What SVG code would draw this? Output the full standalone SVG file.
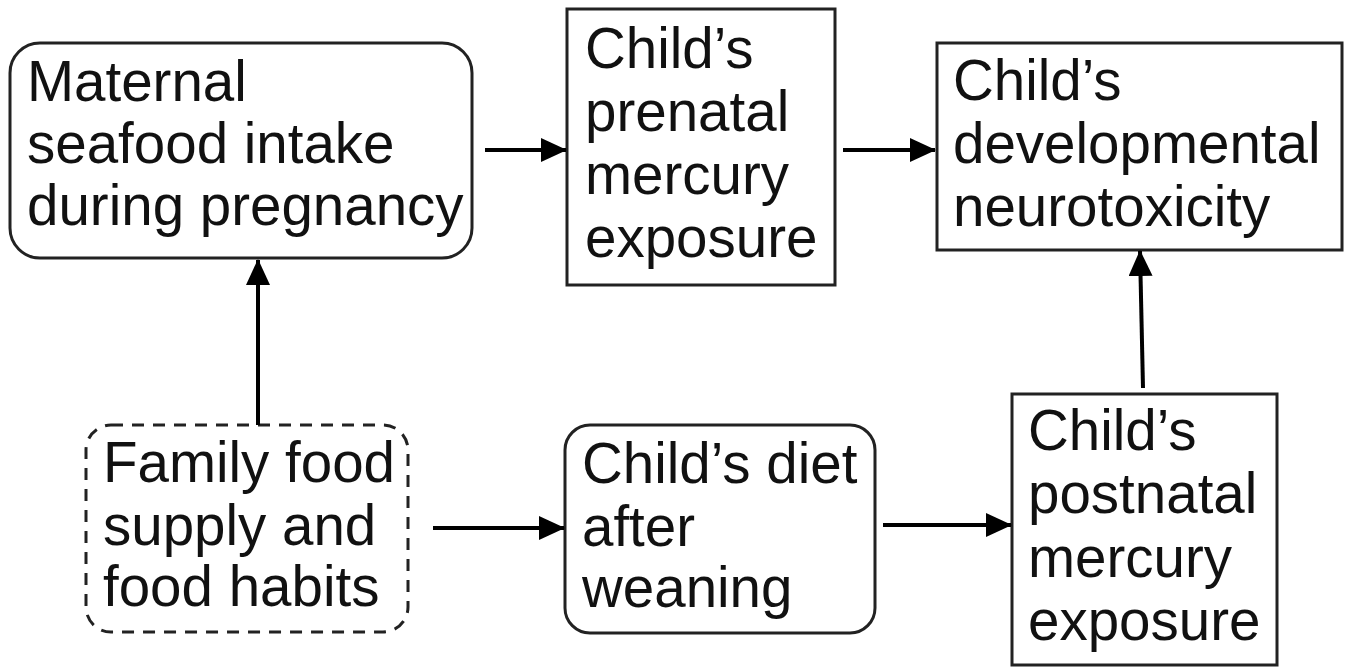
<svg xmlns="http://www.w3.org/2000/svg" width="1350" height="667" viewBox="0 0 1350 667">
<defs>
<style>
.box{fill:#fff;stroke:#222;stroke-width:3}
.dash{fill:#fff;stroke:#222;stroke-width:3;stroke-dasharray:12 9}
.t{font-family:"Liberation Sans",Arial,sans-serif;font-size:56.5px;fill:#111}
.c{stroke:#000;stroke-width:4;fill:none}
</style>
<marker id="a" markerWidth="26" markerHeight="24" refX="25" refY="12" orient="auto" markerUnits="userSpaceOnUse">
<path d="M0,0 L26,12 L0,24 z" fill="#000"/>
</marker>
</defs>
<rect width="1350" height="667" fill="#fff"/>
<g id="maternal">
<rect class="box" x="10" y="43" width="462" height="215" rx="30"/>
<text class="t" x="27" y="101">Maternal</text>
<text class="t" x="27" y="163">seafood intake</text>
<text class="t" x="27" y="225">during pregnancy</text>
</g>
<g id="prenatal">
<rect class="box" x="567" y="9" width="268" height="276"/>
<text class="t" x="585" y="68">Child’s</text>
<text class="t" x="585" y="131">prenatal</text>
<text class="t" x="585" y="194">mercury</text>
<text class="t" x="585" y="257">exposure</text>
</g>
<g id="neurotox">
<rect class="box" x="937" y="43" width="405" height="207"/>
<text class="t" x="953" y="100">Child’s</text>
<text class="t" x="953" y="163">developmental</text>
<text class="t" x="953" y="226">neurotoxicity</text>
</g>
<g id="family">
<rect class="dash" x="86" y="425" width="322" height="207" rx="25"/>
<text class="t" x="103" y="482">Family food</text>
<text class="t" x="103" y="545">supply and</text>
<text class="t" x="103" y="606">food habits</text>
</g>
<g id="diet">
<rect class="box" x="565" y="425" width="310" height="208" rx="25"/>
<text class="t" x="582" y="483">Child’s diet</text>
<text class="t" x="582" y="546">after</text>
<text class="t" x="582" y="607">weaning</text>
</g>
<g id="postnatal">
<rect class="box" x="1012" y="394" width="265" height="271"/>
<text class="t" x="1028" y="450">Child’s</text>
<text class="t" x="1028" y="513">postnatal</text>
<text class="t" x="1028" y="577">mercury</text>
<text class="t" x="1028" y="640">exposure</text>
</g>
<g id="connectors">
<line class="c" x1="485" y1="150" x2="566" y2="150" marker-end="url(#a)"/>
<line class="c" x1="843" y1="150" x2="935" y2="150" marker-end="url(#a)"/>
<line class="c" x1="258" y1="425" x2="258" y2="260" marker-end="url(#a)"/>
<line class="c" x1="433" y1="528" x2="564" y2="528" marker-end="url(#a)"/>
<line class="c" x1="883" y1="525" x2="1011" y2="525" marker-end="url(#a)"/>
<line class="c" x1="1143" y1="388" x2="1140" y2="251" marker-end="url(#a)"/>
</g>
</svg>
